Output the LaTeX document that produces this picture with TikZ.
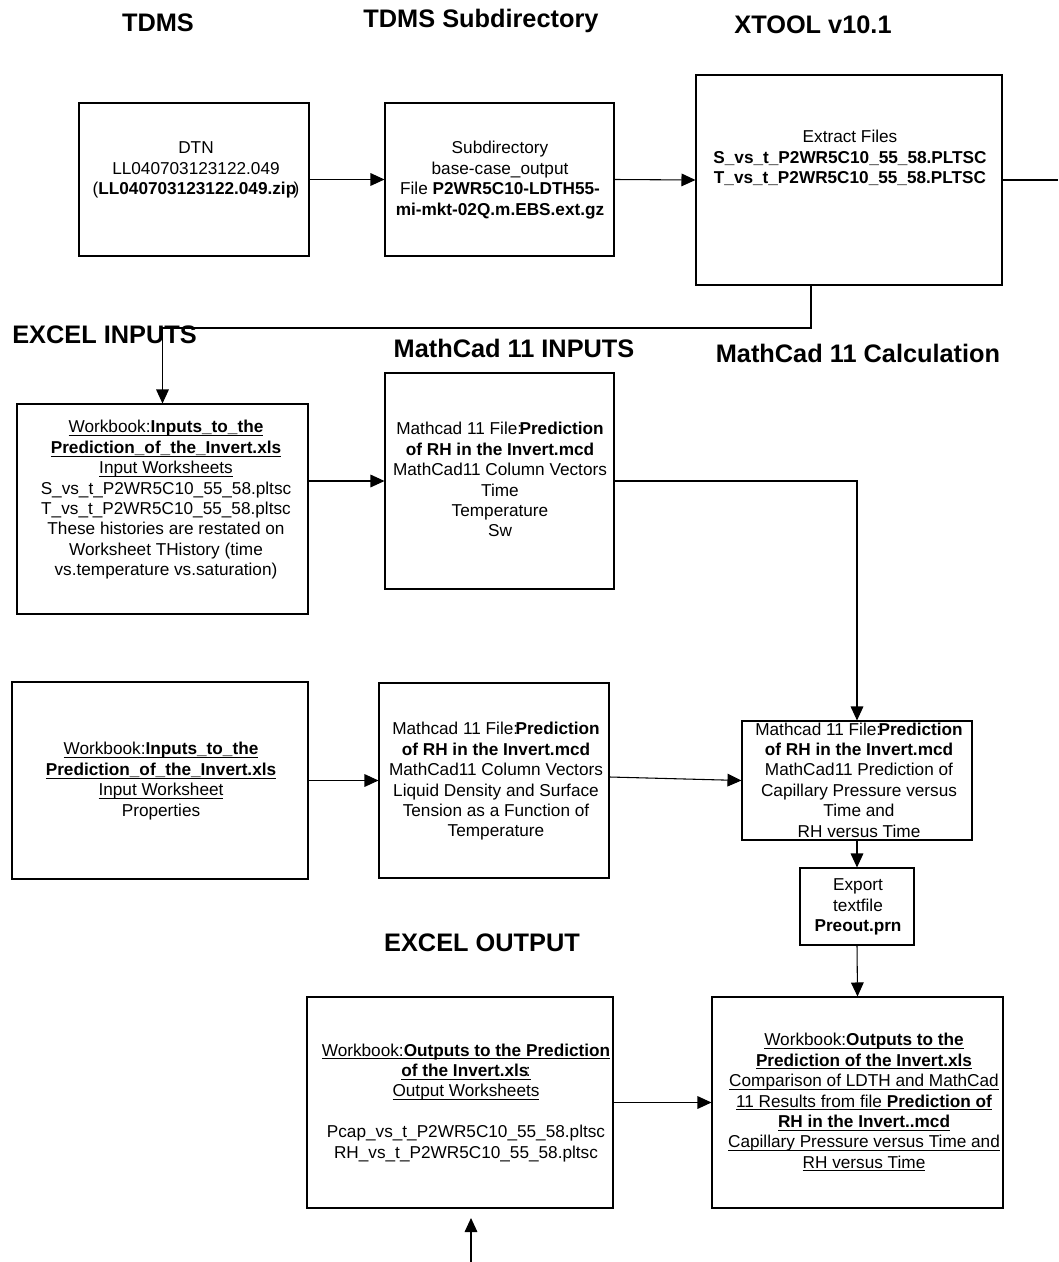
\documentclass[tikz,border=0pt]{standalone}
\usepackage{fontspec}
\setmainfont{Liberation Sans}
\usetikzlibrary{arrows.meta,fit,calc}
\newcommand\myul[1]{\setbox0=\hbox{#1}\rlap{\rule[-2.3pt]{\wd0}{0.7pt}}\box0}
\begin{document}
\begin{tikzpicture}[x=0.75pt,y=-0.75pt,
  txt/.style={align=center, inner sep=0pt, font=\fontsize{12.9}{15.3}\selectfont},
  ttl/.style={anchor=base, inner sep=0pt, font=\fontsize{19}{22}\selectfont\bfseries},
  box/.style={draw, line width=0.8pt, inner sep=0pt},
  arr/.style={-{Triangle[length=10.5pt,width=9.5pt]}, line width=0.8pt},
  ln/.style={line width=0.8pt}]
\useasboundingbox (0,0) rectangle (1058,1262);

% titles
\node[ttl] (tA) at (158,32) {TDMS};
\node[ttl] (tB) at (481,28) {TDMS Subdirectory};
\node[ttl] (tC) at (813,34) {XTOOL v10.1};
\node[ttl] (tD) at (104.5,343) {EXCEL INPUTS};
\node[ttl] (tE) at (514,357) {MathCad 11 INPUTS};
\node[ttl] (tF) at (858,362) {MathCad 11 Calculation};
\node[ttl] (tG) at (482,951) {EXCEL OUTPUT};

% boxes
\node[box, fit={(79,103)(309,256)}] (b1) {};
\node[box, fit={(385,103)(614,256)}] (b2) {};
\node[box, fit={(696,75)(1002,285)}] (b3) {};
\node[box, fit={(17,404)(308,614)}] (ib1) {};
\node[box, fit={(385,373)(614,589)}] (mc1) {};
\node[box, fit={(12,682)(308,879)}] (ib2) {};
\node[box, fit={(379,683)(609,878)}] (mc2) {};
\node[box, fit={(742,721)(972,840)}] (calc) {};
\node[box, fit={(800,868)(914,945)}] (exp) {};
\node[box, fit={(307,997)(613,1208)}] (out) {};
\node[box, fit={(712,997)(1003,1208)}] (cmp) {};

% texts
\node[txt] (b1t) at (196,170.3) {\strut DTN\\ LL040703123122.049\\ (\textbf{LL040703123122.049.zip}\kern-2pt)\strut};
\node[txt] (b2t) at (500,180.5) {\strut Subdirectory\\ base-case\_output\\ File \textbf{P2WR5C10-LDTH55-}\\ \textbf{mi-mkt-02Q.m.EBS.ext.gz}\strut};
\node[txt] (b3t) at (850,159.3) {\strut Extract Files\\ \textbf{S\_vs\_t\_P2WR5C10\_55\_58.PLTSC}\\ \textbf{T\_vs\_t\_P2WR5C10\_55\_58.PLTSC}\strut};
\node[txt] (ib1t) at (166,500.3) {\strut\myul{Workbook:\textbf{Inputs\_to\_the}}\\ \myul{\textbf{Prediction\_of\_the\_Invert.xls}}\\ \myul{Input Worksheets}\\ S\_vs\_t\_P2WR5C10\_55\_58.pltsc\\ T\_vs\_t\_P2WR5C10\_55\_58.pltsc\\ These histories are restated on\\ Worksheet THistory (time\\ vs.temperature vs.saturation)\strut};
\node[txt] (mc1t) at (500,481.9) {\strut Mathcad 11 File:\kern-2pt\textbf{Prediction}\\ \textbf{of RH in the Invert.mcd}\\ MathCad11 Column Vectors\\ Time\\ Temperature\\ Sw\strut};
\node[txt] (ib2t) at (161,781.5) {\strut\myul{Workbook:\textbf{Inputs\_to\_the}}\\ \myul{\textbf{Prediction\_of\_the\_Invert.xls}}\\ \myul{Input Worksheet}\\ Properties\strut};
\node[txt] (mc2t) at (496,781.9) {\strut Mathcad 11 File:\kern-2pt\textbf{Prediction}\\ \textbf{of RH in the Invert.mcd}\\ MathCad11 Column Vectors\\ Liquid Density and Surface\\ Tension as a Function of\\ Temperature\strut};
\node[txt] (calct) at (859,782) {\strut Mathcad 11 File:\kern-2pt\textbf{Prediction}\\ \textbf{of RH in the Invert.mcd}\\ MathCad11 Prediction of\\ Capillary Pressure versus\\ Time and\\ RH versus Time\strut};
\node[txt] (expt) at (858,907) {\strut Export\\ textfile\\ \textbf{Preout.prn}\strut};
\node[txt] (outt) at (466,1103) {\strut\myul{Workbook:\textbf{Outputs to the Prediction}}\\ \myul{\textbf{of the Invert.xls}\kern-2pt:}\\ \myul{Output Worksheets}\\ \strut\\ Pcap\_vs\_t\_P2WR5C10\_55\_58.pltsc\\ RH\_vs\_t\_P2WR5C10\_55\_58.pltsc\strut};
\node[txt] (cmpt) at (864,1103) {\strut\myul{Workbook:\textbf{Outputs to the}}\\ \myul{\textbf{Prediction of the Invert.xls}}\\ \myul{Comparison of LDTH and MathCad}\\ \myul{11 Results from file \textbf{Prediction of}}\\ \myul{\textbf{RH in the Invert..mcd}}\\ \myul{Capillary Pressure versus Time and}\\ \myul{RH versus Time}\strut};

% helper coordinates
\coordinate (outR) at (1058,180);
\coordinate (k1) at (811,328);
\coordinate (upA) at (471,1262);
\coordinate (upB) at (471,1218);

% connectors
\draw[arr] (b1.east) -- (b2.west);
\draw[arr] (b2.east) -- (b3.west);
\draw[ln] (b3.east) -- (b3.east -| outR);
\draw[arr] (k1 |- b3.south) -- (k1) -| (ib1.north);
\draw[arr] (ib1.east |- mc1.west) -- (mc1.west);
\draw[arr] (mc1.east) -| (calc.north);
\draw[arr] (ib2.east) -- (mc2.west);
\draw[arr] ($(mc2.east)+(0,-3.5)$) -- (calc.west);
\draw[arr] (calc.south) -- (exp.north);
\draw[arr] (exp.south) -- (cmp.north);
\draw[arr] (out.east) -- (cmp.west);
\draw[arr] (upA) -- (upB);
\end{tikzpicture}
\end{document}
